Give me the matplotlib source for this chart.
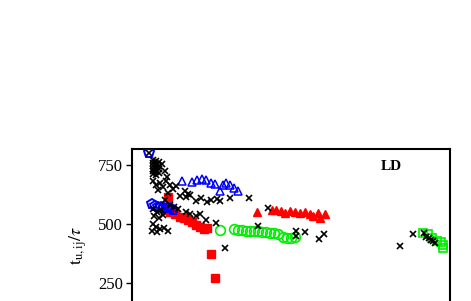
import matplotlib
matplotlib.use("Agg")
import matplotlib.pyplot as plt

plt.rcParams['font.family'] = ['Liberation Serif', 'DejaVu Serif']
plt.rcParams['mathtext.fontset'] = 'stix'

# x is in arbitrary units (no x ticks are visible in the reference)
pent_x = [17, 20, 23, 26, 29, 32, 35, 38, 41]
pent_y = [800, 585, 575, 570, 570, 568, 565, 565, 560]

tri_open_x = [50, 60, 65, 70, 74, 79, 83, 88, 91, 94, 98, 102, 106]
tri_open_y = [680, 676, 685, 688, 684, 672, 668, 638, 664, 672, 664, 651, 638]

sq_red_x = [36, 33, 38, 43, 48, 52, 56, 60, 64, 68, 72, 75, 79, 83]
sq_red_y = [612, 560, 550, 540, 530, 522, 515, 505, 495, 485, 478, 482, 373, 271]

tri_red_x = [125, 140, 144, 149, 153, 158, 163, 168, 173, 178, 181, 186, 188, 193]
tri_red_y = [548, 560, 556, 552, 544, 553, 548, 544, 550, 540, 532, 546, 524, 540]

circ_x = [88, 102, 106, 110, 114, 118, 122, 126, 130, 134, 138, 142, 146, 151, 155, 159, 163]
circ_y = [471, 477, 474, 472, 470, 470, 468, 470, 466, 465, 462, 460, 455, 445, 440, 440, 442]

sq_green_x = [291, 296, 300, 305, 309, 311, 311]
sq_green_y = [460, 455, 440, 428, 420, 408, 395]

cross_x = [17,
           21, 21, 21, 21, 21, 21, 24, 24, 24, 24, 24, 24, 27, 27, 27, 27, 30, 33, 35,
           21, 24, 28, 31, 34, 38, 41, 44, 26, 36, 48,
           53, 56, 54, 58,
           64, 69, 75, 79, 85, 88, 98,
           21, 25, 29, 22, 27, 31, 21, 24, 28, 32, 36, 20, 25,
           33, 38, 42, 46, 54, 58, 64, 68, 74, 84, 93,
           117, 126, 136, 164, 164, 173, 187, 192,
           268, 281, 292, 294, 297, 299, 301, 303]
cross_y = [800,
           770, 757, 745, 733, 722, 712, 765, 752, 740, 728, 718, 706, 760, 745, 730, 715, 755, 725, 700,
           680, 664, 672, 655, 680, 664, 647, 660, 642, 630, 617,
           638, 625, 613, 621,
           596, 608, 591, 600, 604, 596, 608,
           562, 549, 557, 532, 523, 536, 498, 485, 477, 481, 468, 468, 464,
           600, 578, 570, 562, 549, 540, 532, 540, 514, 502, 395,
           610, 489, 565, 467, 446, 463, 434, 455,
           404, 455, 459, 442, 438, 429, 425, 417]

fig = plt.figure(figsize=(4.71, 3.01), dpi=100)
# axes extends below the bottom edge of the figure, as in the cropped reference
ax = fig.add_axes([0.281, -0.1345, 0.675, 0.6405])

ax.plot(cross_x, cross_y, 'x', color='black', ms=4, mew=1.2, zorder=5)
ax.plot(pent_x, pent_y, 'p', mfc='none', mec='blue', ms=7, mew=1.4, zorder=4)
ax.plot(tri_open_x, tri_open_y, '^', mfc='none', mec='blue', ms=6, mew=1.1, zorder=4)
ax.plot(sq_red_x, sq_red_y, 's', color='red', ms=5.5, zorder=3)
ax.plot(tri_red_x, tri_red_y, '^', color='red', ms=6, zorder=3)
ax.plot(circ_x, circ_y, 'o', mfc='none', mec='#00ee00', ms=7, mew=1.2, zorder=3)
ax.plot(sq_green_x, sq_green_y, 's', mfc='none', mec='#00ee00', ms=5.5, mew=1.2, zorder=3)

ax.set_xlim(0, 318)
ax.set_ylim(0, 818)
ax.set_xticks([])
ax.set_yticks([250, 500, 750])
ax.tick_params(axis='y', direction='out', length=4, width=1, labelsize=12, pad=3)
for s in ax.spines.values():
    s.set_linewidth(1.5)

ax.set_ylabel(r'$\mathrm{t_{u,ij}}/\tau$', fontsize=13)
ax.yaxis.set_label_coords(-0.135, 0.5)
ax.text(0.815, 0.91, 'LD', transform=ax.transAxes, fontsize=11,
        fontweight='bold', ha='center', va='center')

fig.savefig('out.png', dpi=100)
